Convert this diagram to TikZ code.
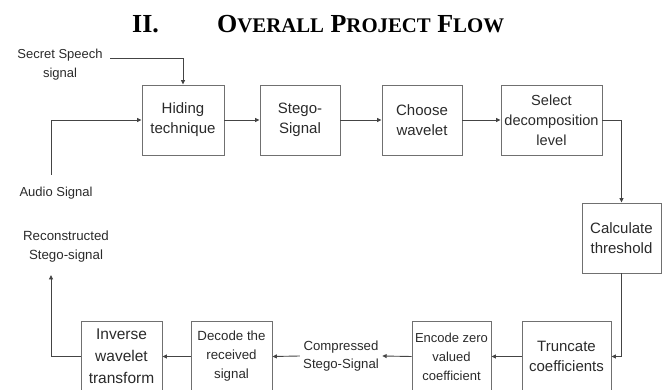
\documentclass[tikz,border=0pt]{standalone}
\usepackage{fontspec}
\setmainfont{Liberation Serif}
\newfontfamily\arialf{Liberation Sans}
\usetikzlibrary{arrows.meta}
\definecolor{boxgray}{HTML}{707070}
\definecolor{linegray}{HTML}{444444}
\definecolor{txtgray}{HTML}{2A2A2A}
\newcommand\tbigL[1]{{\fontsize{26}{30}\selectfont #1}}
\newcommand\tsmlL[1]{{\fontsize{20.8}{30}\selectfont #1}}
\begin{document}
\begin{tikzpicture}[x=1pt,y=-1pt,
  box/.style={draw=boxgray, line width=0.9pt, inner sep=0pt, align=center, text=txtgray,
    font=\arialf\fontsize{15}{20}\selectfont},
  sbox/.style={box, font=\arialf\fontsize{13.3}{19}\selectfont},
  lbl/.style={align=center, inner sep=0pt, text=txtgray, font=\arialf\fontsize{13}{19}\selectfont},
  conn/.style={draw=linegray, line width=0.9pt, -{Triangle[length=4.5pt,width=4pt]}},
  ttl/.style={inner sep=0pt, anchor=base west, font=\bfseries\fontsize{26}{30}\selectfont}]
\clip (0,0) rectangle (670,390);
% title
\node[ttl] (t1) at (132,33) {\tbigL{II.}};
\node[ttl] (t2) at (217,33) {\tbigL{O}\tsmlL{VERALL} \tbigL{P}\tsmlL{ROJECT} \tbigL{F}\tsmlL{LOW}};
% top row
\node[box, minimum width=82, minimum height=70] (hid) at (183,120) {Hiding\\technique};
\node[box, minimum width=80, minimum height=70] (stg) at (300,120) {Stego-\\Signal};
\node[box, minimum width=80, minimum height=70] (cho) at (422,120) {Choose\\wavelet};
\node[box, minimum width=101, minimum height=70, font=\arialf\fontsize{14.6}{20}\selectfont] (sel) at (551.5,120) {Select\\decomposition\\level};
\node[box, minimum width=79, minimum height=70] (cal) at (621.5,238) {Calculate\\threshold};
% bottom row
\node[box, minimum width=89, minimum height=71] (tru) at (566.5,356.5) {Truncate\\coefficients};
\node[sbox, minimum width=79, minimum height=71, font=\arialf\fontsize{13}{19}\selectfont] (enc) at (451.5,356.5) {Encode zero\\valued\\coefficient};
\node[lbl, minimum width=82, font=\arialf\fontsize{13.2}{18}\selectfont] (cmp) at (341,356) {Compressed\\Stego-Signal};
\node[sbox, minimum width=81, minimum height=71] (dec) at (231.5,356.5) {Decode the\\received\\signal};
\node[box, minimum width=81, minimum height=71, font=\arialf\fontsize{15.5}{22}\selectfont] (inv) at (121.5,356.5) {Inverse\\wavelet\\transform};
% side labels
\node[lbl] (sec) at (60,64.5) {Secret Speech\\signal};
\node[lbl] (aud) at (56,193) {Audio Signal};
\node[lbl, font=\arialf\fontsize{13.3}{19}\selectfont] (rec) at (66,246.5) {Reconstructed\\Stego-signal};
\coordinate (ss) at (110,58);
\coordinate (au) at (51,175);
\coordinate (rc) at (51,275);
% connectors
\draw[conn] (ss) -| (hid.north);
\draw[conn] (au) |- (hid.west);
\draw[conn] (hid.east) -- (stg.west);
\draw[conn] (stg.east) -- (cho.west);
\draw[conn] (cho.east) -- (sel.west);
\draw[conn] (sel.east) -| (cal.north);
\draw[conn] (cal.south) |- (tru.east);
\draw[conn] (tru.west) -- (enc.east);
\draw[conn] (enc.west) -- (cmp.east);
\draw[conn] (cmp.west) -- (dec.east);
\draw[conn] (dec.west) -- (inv.east);
\draw[conn] (inv.west) -| (rc);
\end{tikzpicture}
\end{document}
